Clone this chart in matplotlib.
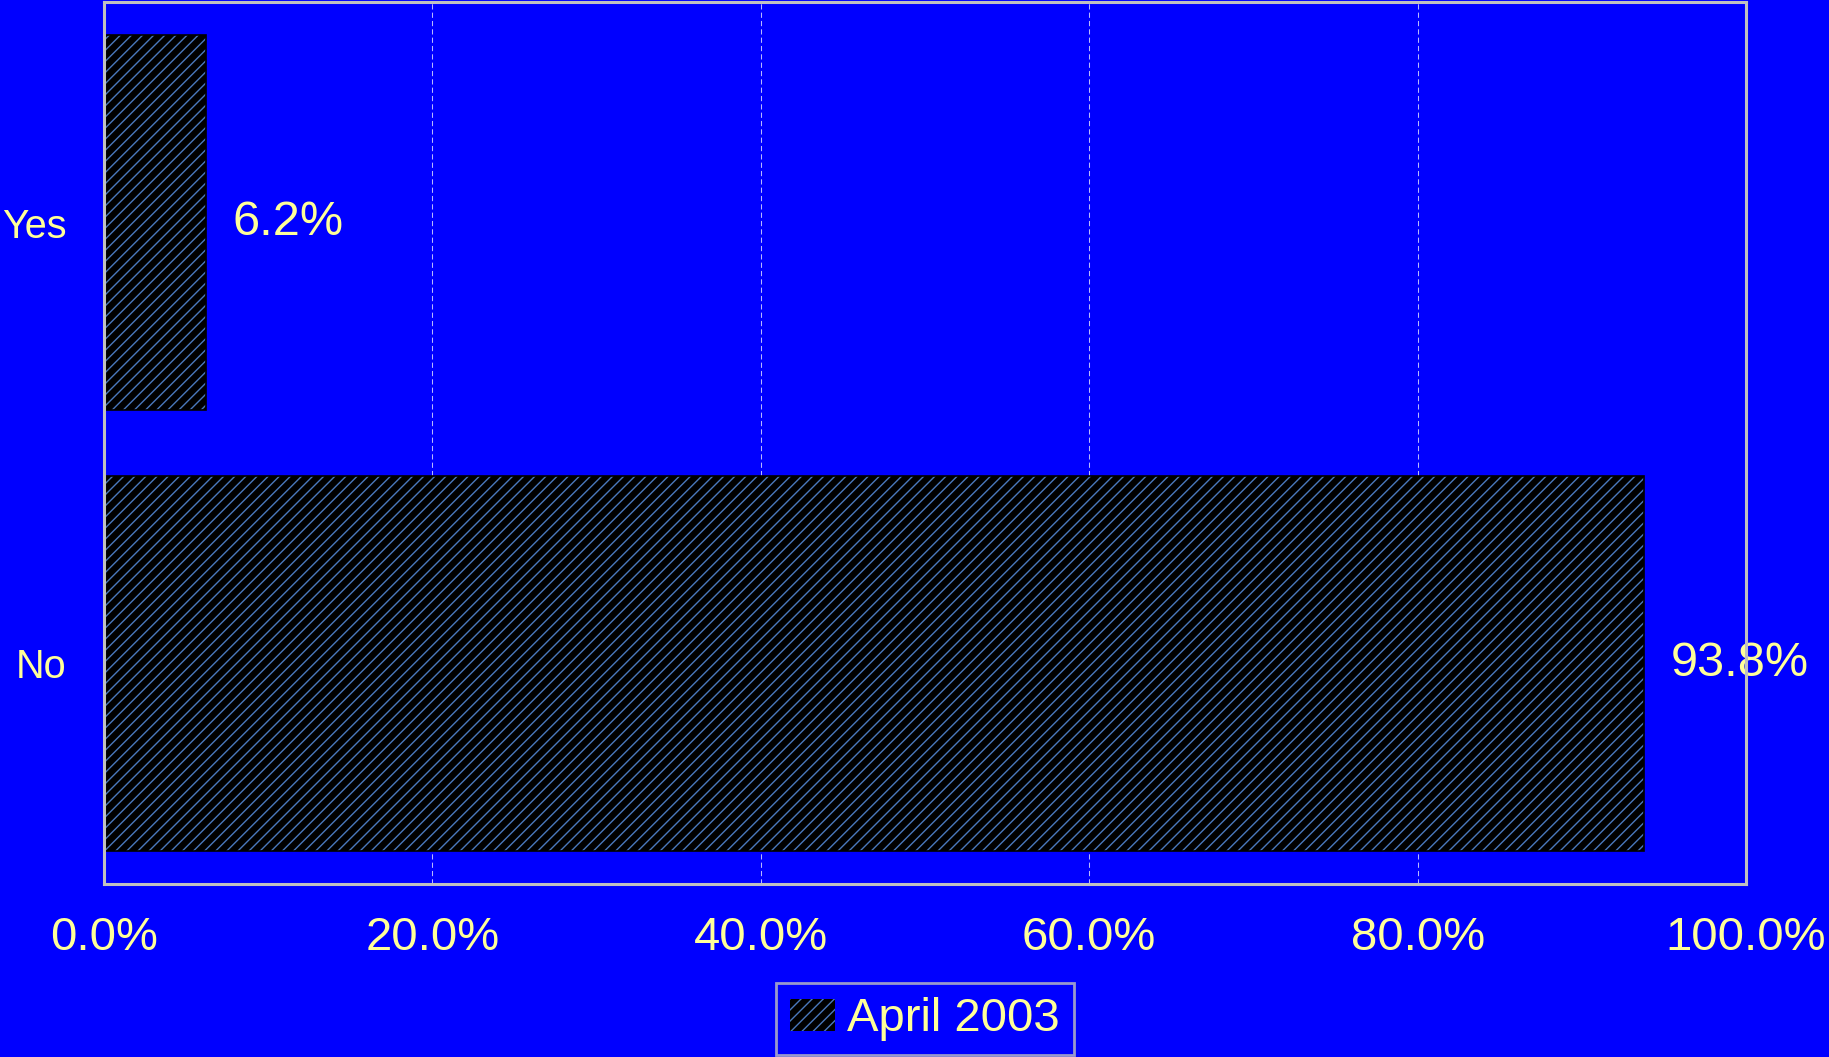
import matplotlib
matplotlib.use("Agg")
import matplotlib.pyplot as plt
from matplotlib.ticker import PercentFormatter

# data
categories = ["No", "Yes"]
values = [93.8, 6.2]
series_name = "April 2003"
x_ticks = [0, 20, 40, 60, 80, 100]

bg = "#0000ff"
txt = "#ffff99"
frame = "#c0c0c0"
hatch_col = "#4a78bc"

plt.rcParams["font.family"] = ["Liberation Sans", "DejaVu Sans"]
plt.rcParams["hatch.linewidth"] = 1.0

fig = plt.figure(figsize=(18.29, 10.57), dpi=100, facecolor=bg)
ax = fig.add_axes([104 / 1829, 1 - 884 / 1057, 1642 / 1829, 882 / 1057])
ax.set_facecolor(bg)

# hatch takes the edge colour, so fill + hatch first, black outline on top
ypos = range(len(categories))
ax.barh(ypos, values, height=0.85, color="black", edgecolor=hatch_col,
        hatch="///", lw=0, label=series_name, zorder=2)
ax.barh(ypos, values, height=0.85, fill=False, edgecolor="black", lw=1.2, zorder=2.1)

# value labels
for i, v in enumerate(values):
    ax.annotate("%.1f%%" % v, xy=(v, i), xytext=(19, 0), textcoords="offset points",
                ha="left", va="center", color=txt, fontsize=35, zorder=2,
                annotation_clip=False)

ax.set_xlim(0, 100)
ax.set_ylim(-0.5, 1.5)
ax.set_xticks(x_ticks)
ax.xaxis.set_major_formatter(PercentFormatter(decimals=1))
ax.set_yticks(list(ypos))
ax.set_yticklabels(categories)
ax.tick_params(axis="x", length=0, pad=23, labelsize=34, labelcolor=txt)
ax.tick_params(axis="y", length=0, pad=27, labelsize=28.5, labelcolor=txt)

ax.grid(axis="x", color="#b8b8ff", lw=0.75, dashes=(5, 3), zorder=1)
ax.set_axisbelow(True)

for s in ax.spines.values():
    s.set_color(frame)
    s.set_linewidth(2.2)
    s.set_zorder(4)

leg = fig.legend(loc="upper center", bbox_to_anchor=(925 / 1829, 1 - 983 / 1057),
                 borderaxespad=0, fontsize=34, frameon=True, fancybox=False,
                 handlelength=0.95, handleheight=0.66, handletextpad=0.27,
                 borderpad=0.3)
leg.get_frame().set_facecolor(bg)
leg.get_frame().set_edgecolor(frame)
leg.get_frame().set_linewidth(2)
for t in leg.get_texts():
    t.set_color(txt)

plt.savefig("out.png", dpi=100, facecolor=bg)
